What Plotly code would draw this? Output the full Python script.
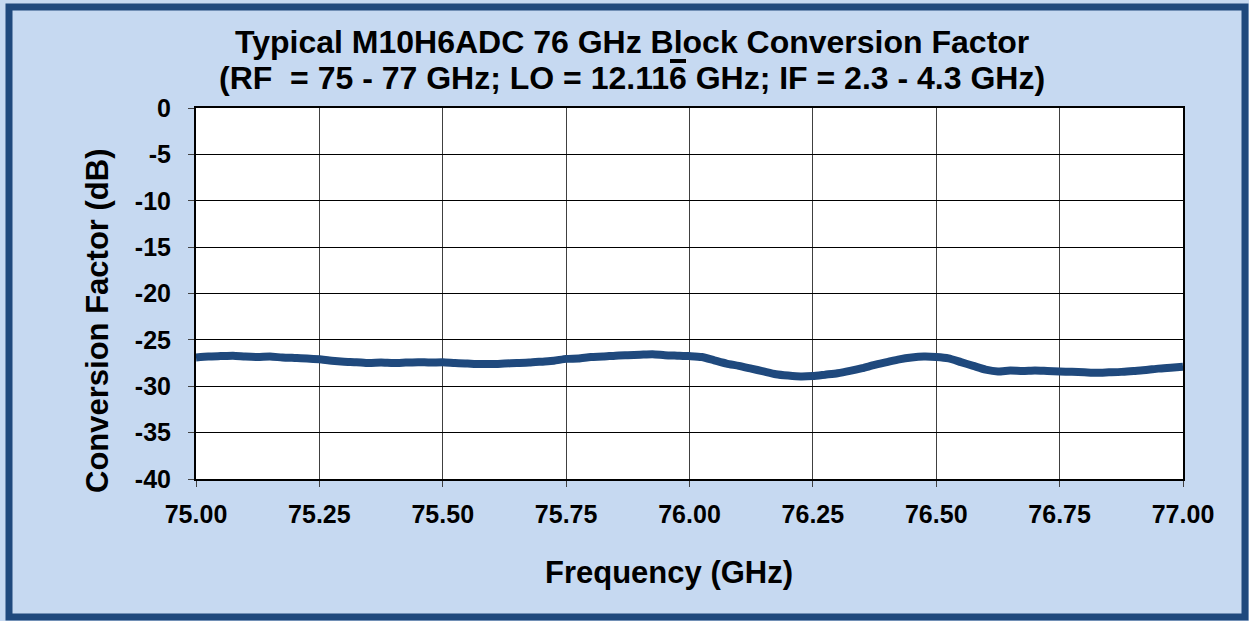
import plotly.graph_objects as go

freq = [75.000, 75.025, 75.050, 75.075, 75.100, 75.125, 75.150, 75.175, 75.200, 75.225,
        75.250, 75.275, 75.300, 75.325, 75.350, 75.375, 75.400, 75.425, 75.450, 75.475,
        75.500, 75.525, 75.550, 75.575, 75.600, 75.625, 75.650, 75.675, 75.700, 75.725,
        75.750, 75.775, 75.800, 75.825, 75.850, 75.875, 75.900, 75.925, 75.950, 75.975,
        76.000, 76.025, 76.050, 76.075, 76.100, 76.125, 76.150, 76.175, 76.200, 76.225,
        76.250, 76.275, 76.300, 76.325, 76.350, 76.375, 76.400, 76.425, 76.450, 76.475,
        76.500, 76.525, 76.550, 76.575, 76.600, 76.625, 76.650, 76.675, 76.700, 76.725,
        76.750, 76.775, 76.800, 76.825, 76.850, 76.875, 76.900, 76.925, 76.950, 76.975,
        77.000]
conv_db = [-26.9, -26.8, -26.75, -26.7, -26.8, -26.85, -26.8, -26.9, -26.95, -27.0,
           -27.1, -27.25, -27.35, -27.4, -27.5, -27.45, -27.5, -27.45, -27.4, -27.45,
           -27.4, -27.5, -27.55, -27.6, -27.6, -27.55, -27.5, -27.45, -27.35, -27.25,
           -27.05, -27.0, -26.85, -26.8, -26.7, -26.65, -26.6, -26.55, -26.65, -26.7,
           -26.75, -26.85, -27.2, -27.55, -27.8, -28.1, -28.4, -28.7, -28.85, -28.95,
           -28.9, -28.75, -28.6, -28.35, -28.05, -27.7, -27.4, -27.1, -26.9, -26.8,
           -26.85, -27.0, -27.4, -27.8, -28.2, -28.4, -28.3, -28.35, -28.3, -28.35,
           -28.4, -28.45, -28.5, -28.55, -28.5, -28.45, -28.35, -28.25, -28.1, -28.0,
           -27.9]

x_ticks = [75.00, 75.25, 75.50, 75.75, 76.00, 76.25, 76.50, 76.75, 77.00]
x_tick_labels = ["75.00", "75.25", "75.50", "75.75", "76.00", "76.25", "76.50", "76.75", "77.00"]
y_ticks = [0, -5, -10, -15, -20, -25, -30, -35, -40]
y_tick_labels = ["0", "-5", "-10", "-15", "-20", "-25", "-30", "-35", "-40"]

title1 = "Typical M10H6ADC 76 GHz Block Conversion Factor"
title2 = "(RF  = 75 - 77 GHz; LO = 12.116 GHz; IF = 2.3 - 4.3 GHz)"
x_title = "Frequency (GHz)"
y_title = "Conversion Factor (dB)"

W, H = 1249, 621
L, R, T, B = 196, 1183, 108, 479
pw, ph = R - L, B - T

def px(xpix):
    return (xpix - L) / pw

def py(ypix):
    return (B - ypix) / ph

fig = go.Figure()
fig.add_trace(go.Scatter(x=freq, y=conv_db, mode="lines",
                         line=dict(color="#1F497D", width=8, shape="spline", smoothing=0.6),
                         showlegend=False, hoverinfo="x+y"))

tick_font = dict(family="Liberation Sans, Arial, sans-serif", size=25, color="black")
fig.update_layout(
    width=W, height=H,
    margin=dict(l=L, r=W - R, t=T, b=H - B, pad=0),
    paper_bgcolor="#C6D9F1",
    plot_bgcolor="white",
    xaxis=dict(range=[75, 77], tickvals=x_ticks, ticktext=[f"<b>{t}</b>" for t in x_tick_labels],
               showgrid=True, gridcolor="#404040", gridwidth=1,
               showline=True, linecolor="black", linewidth=2, mirror=True,
               ticks="outside", ticklen=6, tickcolor="#404040", tickfont=tick_font,
               ticklabelstandoff=6,
               zeroline=False, fixedrange=True),
    yaxis=dict(range=[-40, 0], tickvals=y_ticks, ticktext=[f"<b>{t}</b>" for t in y_tick_labels],
               showgrid=True, gridcolor="black", gridwidth=1,
               showline=True, linecolor="black", linewidth=2, mirror=True,
               ticks="outside", ticklen=6, tickcolor="#404040", tickfont=tick_font,
               ticklabelstandoff=12,
               zeroline=False, fixedrange=True),
)

title_font = dict(family="Liberation Sans, Arial", size=32, color="black")
fig.add_annotation(text=f"<b>{title1}</b>", x=px(632), y=py(42), xref="paper", yref="paper",
                   showarrow=False, font=title_font, xanchor="center", yanchor="middle")
fig.add_annotation(text=f"<b>{title2}</b>", x=px(632), y=py(78), xref="paper", yref="paper",
                   showarrow=False, font=title_font, xanchor="center", yanchor="middle")
# overline bar above the repeating "6"
fig.add_shape(type="line", xref="paper", yref="paper",
              x0=px(670), x1=px(686), y0=py(61), y1=py(61),
              line=dict(color="black", width=4))

axis_title_font = dict(family="Liberation Sans, Arial, sans-serif", size=31, color="black")
fig.add_annotation(text=f"<b>{x_title}</b>", x=px(669), y=py(572), xref="paper", yref="paper",
                   showarrow=False, font=axis_title_font, xanchor="center", yanchor="middle")
fig.add_annotation(text=f"<b>{y_title}</b>", x=px(97), y=py(321), xref="paper", yref="paper",
                   showarrow=False, font=axis_title_font, xanchor="center", yanchor="middle",
                   textangle=-90)

fig.add_shape(type="rect", xref="paper", yref="paper",
              x0=px(9), x1=px(1245), y0=py(7), y1=py(617),
              line=dict(color="#1F497D", width=7), fillcolor="rgba(0,0,0,0)", layer="below")

fig.write_html("out.html", config={"displayModeBar": False},
               post_script="document.body.style.margin='0';document.body.style.overflow='hidden';")
